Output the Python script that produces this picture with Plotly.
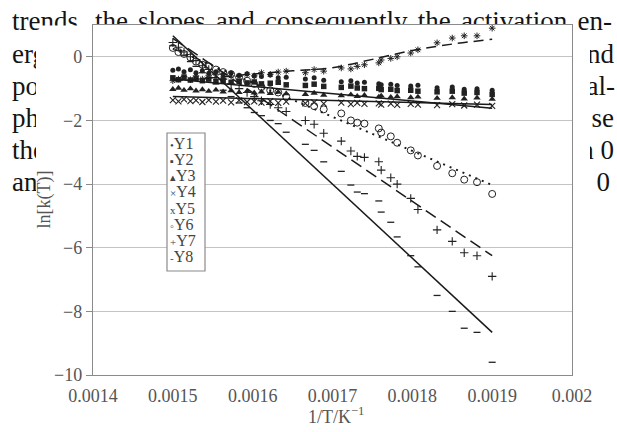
import plotly.graph_objects as go

# ---------------- data: ln k(T) against 1/T ----------------
inv_T = [0.001500, 0.001507, 0.001514, 0.001522, 0.001529, 0.001537, 0.001545,
         0.001554, 0.001563, 0.001573, 0.001583, 0.001593, 0.001602, 0.001611,
         0.001622, 0.001632, 0.001642, 0.001666, 0.001677, 0.001689, 0.001711,
         0.001723, 0.001731, 0.001740, 0.001758, 0.001761, 0.001773, 0.001781,
         0.001798, 0.001807, 0.001831, 0.001850, 0.001865, 0.001881, 0.001900]

Y1 = [-0.42, -0.38, -0.47, -0.41, -0.50, -0.44, -0.52, -0.47, -0.55, -0.50,
      -0.58, -0.53, -0.60, -0.62, -0.57, -0.66, -0.64, -0.70, -0.66, -0.74,
      -0.78, -0.75, -0.82, -0.80, -0.85, -0.88, -0.86, -0.90, -0.92, -0.89,
      -0.97, -0.95, -1.02, -1.00, -1.05]
Y2 = [-0.66, -0.72, -0.64, -0.73, -0.68, -0.75, -0.70, -0.78, -0.74, -0.80,
      -0.77, -0.82, -0.79, -0.85, -0.83, -0.80, -0.88, -0.90, -0.86, -0.93,
      -0.96, -0.92, -0.98, -1.00, -0.99, -1.03, -1.02, -1.06, -1.05, -1.08,
      -1.10, -1.08, -1.14, -1.12, -1.18]
Y3 = [-1.02, -0.98, -1.05, -1.00, -1.07, -1.03, -1.08, -1.04, -1.10, -1.06,
      -1.12, -1.08, -1.13, -1.10, -1.15, -1.11, -1.16, -1.18, -1.14, -1.20,
      -1.22, -1.19, -1.24, -1.21, -1.26, -1.23, -1.27, -1.25, -1.28, -1.26,
      -1.30, -1.28, -1.32, -1.29, -1.33]
Y4 = [-1.36, -1.40, -1.34, -1.39, -1.37, -1.42, -1.36, -1.41, -1.38, -1.43,
      -1.37, -1.42, -1.40, -1.44, -1.39, -1.45, -1.41, -1.46, -1.43, -1.47,
      -1.44, -1.49, -1.45, -1.48, -1.46, -1.50, -1.47, -1.51, -1.48, -1.50,
      -1.52, -1.49, -1.53, -1.50, -1.54]
Y5 = [-0.75, -0.70, -0.62, -0.72, -0.60, -0.70, -0.58, -0.65, -0.70, -0.60,
      -0.62, -0.55, -0.60, -0.50, -0.55, -0.48, -0.45, -0.50, -0.40, -0.45,
      -0.35, -0.38, -0.30, -0.25, -0.19, -0.10, -0.05, 0.00, 0.12, 0.22,
      0.44, 0.59, 0.66, 0.66, 0.90]
Y6 = [0.28, 0.15, 0.09, -0.02, -0.15, -0.25, -0.30, -0.40, -0.48, -0.55,
      -0.65, -0.75, -0.85, -0.95, -1.05, -1.12, -1.25, -1.45, -1.55, -1.65,
      -1.78, -2.00, -2.07, -2.10, -2.25, -2.38, -2.50, -2.70, -2.94, -3.10,
      -3.43, -3.66, -3.86, -3.94, -4.31]
Y7 = [0.45, 0.30, 0.15, 0.00, -0.12, -0.28, -0.40, -0.55, -0.70, -0.85,
      -1.00, -1.12, -1.25, -1.38, -1.50, -1.60, -1.72, -2.00, -2.12, -2.40,
      -2.65, -2.96, -3.13, -3.16, -3.30, -3.56, -3.80, -4.00, -4.45, -4.80,
      -5.44, -5.80, -6.16, -6.25, -6.90]
Y8 = [0.35, 0.20, 0.05, -0.15, -0.30, -0.50, -0.65, -0.85, -1.05, -1.25,
      -1.45, -1.60, -1.75, -1.85, -2.00, -2.10, -2.37, -2.75, -2.94, -3.30,
      -3.60, -4.03, -4.25, -4.30, -4.53, -4.88, -5.20, -5.66, -6.25, -6.60,
      -7.50, -8.00, -8.53, -8.66, -9.60]

series_names = ["Y1", "Y2", "Y3", "Y4", "Y5", "Y6", "Y7", "Y8"]
series_values = [Y1, Y2, Y3, Y4, Y5, Y6, Y7, Y8]

# trend lines (end points of the linear fits, and the curved fit for Y5)
fit_x = [0.0015, 0.0019]
fit_y2 = [-0.70, -1.62]
fit_y3 = [-1.25, -1.50]
fit_y6 = [0.26, -4.03]
fit_y7 = [0.58, -6.25]
fit_y8 = [0.66, -8.66]
fit5_x = [0.0015, 0.00155, 0.0016, 0.00165, 0.0017, 0.00175, 0.0018, 0.00185, 0.0019]
fit5_y = [-0.75, -0.66, -0.54, -0.44, -0.34, -0.08, 0.20, 0.40, 0.55]

x_ticks = [0.0014, 0.0015, 0.0016, 0.0017, 0.0018, 0.0019, 0.002]
x_tick_labels = ["0.0014", "0.0015", "0.0016", "0.0017", "0.0018", "0.0019", "0.002"]
y_ticks = [-10, -8, -6, -4, -2, 0]

legend_symbols = ["•", "▪", "▴", "×", "x", "◦", "+", "-"]

# surrounding page text (first line, then the left and right fragments)
line1_words = ["trends,", "the", "slopes", "and", "consequently", "the", "activation", "en-"]
left_words = ["erg", "po", "ph", "the", "an"]
right_words = ["nd", "al-", "se", "n 0", "0"]

# ---------------- layout geometry (pixels) ----------------
W, H = 617, 432
plot_l, plot_r, plot_t, plot_b = 93, 572, 25, 375
# white figure panel: a main block plus a slightly wider block below the first text line
panel_a = dict(l=40, r=574, t=25.5)
panel_b = dict(l=36, r=590, t=36)
TEXT_FONT = "Liberation Serif"
INK = "#222222"
AXIS_GREY = "#8a8a8a"
LABEL_GREY = "#555555"

line1_x = [12, 94.9, 138.1, 215.8, 265, 417.7, 460.9, 577.6]
line1_y = 23
body_y = [56, 88, 120, 152, 184]
left_x = 12
right_x = [614, 615, 614, 614, 610]

fig = go.Figure()

# page text (subplot xy spans the whole page)
page_x = line1_x + [left_x] * len(left_words) + right_x
page_y = [line1_y] * len(line1_words) + body_y + body_y
page_t = line1_words + left_words + right_words
page_pos = (["middle right"] * (len(line1_words) + len(left_words))
            + ["middle left"] * len(right_words))
fig.add_trace(go.Scatter(
    x=page_x, y=page_y, text=page_t, mode="text", textposition=page_pos,
    textfont=dict(family=TEXT_FONT, size=27, color="#141414"),
    hoverinfo="skip", showlegend=False, xaxis="x", yaxis="y"))

# white panel blocks over the page text (subplots x2y2 and x3y3)
for ax in ("2", "3"):
    fig.add_trace(go.Scatter(
        x=[0.5], y=[0.5], mode="markers", marker=dict(opacity=0, size=1),
        hoverinfo="skip", showlegend=False, xaxis="x" + ax, yaxis="y" + ax))

# the chart itself (subplot x4y4)
line_black = "#1a1a1a"


def fit_line(xs, ys, dash, width=1.5, shape="linear"):
    fig.add_trace(go.Scatter(
        x=xs, y=ys, mode="lines", line=dict(color=line_black, width=width, dash=dash, shape=shape),
        hoverinfo="skip", showlegend=False, xaxis="x4", yaxis="y4"))


marker_styles = {
    "Y1": dict(symbol="circle", size=5),
    "Y2": dict(symbol="square", size=5.5),
    "Y3": dict(symbol="triangle-up", size=6.5),
    "Y4": dict(symbol="x-thin-open", size=6, line=dict(width=1.1, color=INK)),
    "Y5": dict(symbol="asterisk-open", size=5.5, line=dict(width=1, color=INK)),
    "Y6": dict(symbol="circle-open", size=7, line=dict(width=1, color=INK)),
    "Y7": dict(symbol="cross-thin-open", size=6, line=dict(width=1.1, color=INK)),
    "Y8": dict(symbol="line-ew-open", size=5, line=dict(width=1.3, color=INK)),
}

for name, vals in zip(series_names, series_values):
    fig.add_trace(go.Scatter(
        x=inv_T, y=vals, mode="markers", name=name,
        marker=dict(color=INK, **marker_styles[name]),
        showlegend=False, xaxis="x4", yaxis="y4"))

fit_line(fit_x, fit_y2, "solid")
fit_line(fit_x, fit_y3, "solid")
fit_line(fit5_x, fit5_y, "10px,6px", shape="spline")
fit_line(fit_x, fit_y6, "2px,5px", width=2)
fit_line(fit_x, fit_y7, "12px,6px")
fit_line(fit_x, fit_y8, "solid")

tick_font = dict(family=TEXT_FONT, size=18, color=LABEL_GREY)
hidden = dict(visible=False, fixedrange=True, automargin=False)

fig.update_layout(
    template="none",
    width=W, height=H, margin=dict(l=0, r=0, t=0, b=0, pad=0, autoexpand=False),
    paper_bgcolor="white", plot_bgcolor="white", showlegend=False,
    font=dict(family=TEXT_FONT),
    xaxis=dict(domain=[0, 1], range=[0, W], **hidden),
    yaxis=dict(domain=[0, 1], range=[H, 0], **hidden),
    xaxis2=dict(domain=[panel_a["l"] / W, panel_a["r"] / W], range=[0, 1], anchor="y2", **hidden),
    yaxis2=dict(domain=[0, 1 - panel_a["t"] / H], range=[0, 1], anchor="x2", **hidden),
    xaxis3=dict(domain=[panel_b["l"] / W, panel_b["r"] / W], range=[0, 1], anchor="y3", **hidden),
    yaxis3=dict(domain=[0, 1 - panel_b["t"] / H], range=[0, 1], anchor="x3", **hidden),
    xaxis4=dict(domain=[plot_l / W, plot_r / W], range=[0.0014, 0.002], anchor="y4",
                tickvals=x_ticks, ticktext=x_tick_labels, ticks="", showgrid=False,
                zeroline=False, showline=True, mirror=True, linecolor=AXIS_GREY,
                linewidth=1.3, tickfont=tick_font, ticklabelstandoff=4,
                automargin=False, fixedrange=True),
    yaxis4=dict(domain=[1 - plot_b / H, 1 - plot_t / H], range=[-10, 1], anchor="x4",
                tickvals=y_ticks, ticks="outside", ticklen=6, tickcolor=AXIS_GREY,
                showgrid=True, gridcolor="#c4c4c4", gridwidth=1, zeroline=False,
                showline=True, mirror=True, linecolor=AXIS_GREY, linewidth=1.3,
                tickfont=tick_font, automargin=False, fixedrange=True),
)

annotations = [
    dict(x=336 / W, y=1 - 415 / H, xref="paper", yref="paper", showarrow=False,
         xanchor="center", yanchor="middle",
         text="1/T/K<sup>−1</sup>", font=dict(family=TEXT_FONT, size=18, color=LABEL_GREY)),
    dict(x=43.5 / W, y=1 - 199 / H, xref="paper", yref="paper", showarrow=False,
         xanchor="center", yanchor="middle",
         text="ln[k(T)]", textangle=-90, font=dict(family=TEXT_FONT, size=18, color=LABEL_GREY)),
]

# legend box
leg_l, leg_r, leg_t, leg_b = 167, 205, 133, 271
fig.add_shape(type="rect", xref="paper", yref="paper", layer="above",
              x0=leg_l / W, x1=leg_r / W, y0=1 - leg_b / H, y1=1 - leg_t / H,
              line=dict(color=AXIS_GREY, width=1.2), fillcolor="white")
for i, (sym, name) in enumerate(zip(legend_symbols, series_names)):
    yc = 143.3 + i * 16.2
    annotations.append(dict(
        x=(leg_l + 1.5) / W, y=1 - yc / H, xref="paper", yref="paper", showarrow=False,
        xanchor="left", yanchor="middle", borderpad=0,
        text=f"<span style='font-size:11px'>{sym}</span>{name}",
        font=dict(family=TEXT_FONT, size=16, color="#444444")))

fig.update_layout(annotations=annotations)
fig.write_html("out.html")
